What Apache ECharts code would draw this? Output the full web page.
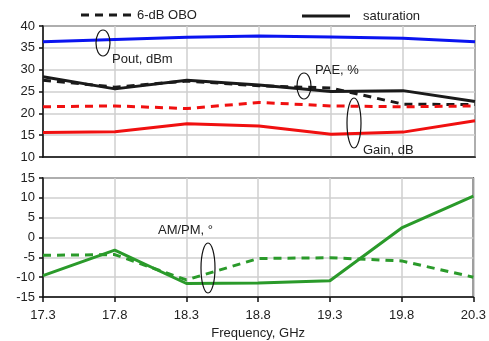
<!DOCTYPE html>
<html>
<head>
<meta charset="utf-8">
<script src="https://cdn.jsdelivr.net/npm/echarts@6/dist/echarts.min.js"></script>
<style>
  html, body { margin: 0; padding: 0; background: #fff; }
  #chart { width: 489px; height: 341px; }
</style>
</head>
<body>
<div id="chart"></div>
<script>
const freqs = ['17.3', '17.8', '18.3', '18.8', '19.3', '19.8', '20.3'];

// top panel
const poutSat = [36.4, 36.9, 37.4, 37.7, 37.5, 37.2, 36.4];
const paeSat = [28.4, 25.6, 27.6, 26.5, 25.0, 25.2, 22.7];
const paeObo = [27.6, 26.0, 27.4, 26.3, 25.8, 22.1, 22.0];
const gainObo = [21.5, 21.7, 21.1, 22.5, 21.7, 21.5, 21.7];
const gainSat = [15.6, 15.8, 17.6, 17.1, 15.2, 15.7, 18.3];

// bottom panel
const ampmSat = [-9.6, -3.2, -11.6, -11.5, -10.9, 2.4, 10.4];
const ampmObo = [-4.5, -4.3, -10.7, -5.3, -5.1, -5.9, -10.0];

const font = 'Liberation Sans, Arial, sans-serif';
const gridLine = { show: true, lineStyle: { color: '#cfcfcf', width: 1.5 } };
const tick = { show: true, length: 4, lineStyle: { color: '#111', width: 1.5 } };

function line(name, data, color, dashed, xi, yi) {
  return {
    name, type: 'line', data, xAxisIndex: xi, yAxisIndex: yi,
    symbol: 'none', silent: true,
    lineStyle: { color, width: 3, type: dashed ? [8, 6] : 'solid' },
    z: dashed ? 3 : 2
  };
}

function ellipse(cx, cy, rx, ry) {
  return {
    type: 'ellipse', shape: { cx, cy, rx, ry },
    style: { fill: null, stroke: '#111', lineWidth: 1.2 }, z: 10
  };
}
function label(x, y, text) {
  return {
    type: 'text', x, y,
    style: { text, font: '13px ' + font, fill: '#222', textVerticalAlign: 'middle' }, z: 10
  };
}
function legendLine(x1, x2, y, dashed) {
  return {
    type: 'line', shape: { x1, y1: y, x2, y2: y },
    style: { stroke: '#1a1a1a', lineWidth: 3, lineDash: dashed ? [8, 6] : null }, z: 10
  };
}

const chart = echarts.init(document.getElementById('chart'), null, { renderer: 'canvas' });
chart.setOption({
  animation: false,
  textStyle: { fontFamily: font },
  grid: [
    { left: 43, right: 14, top: 26, height: 131, show: true, borderColor: '#111', borderWidth: 1.5 },
    { left: 43, right: 14, top: 178, height: 121, show: true, borderColor: '#111', borderWidth: 1.5 }
  ],
  xAxis: [
    {
      type: 'category', data: freqs, boundaryGap: false, gridIndex: 0,
      axisLine: { onZero: false, lineStyle: { color: '#111', width: 1.5 } },
      axisTick: { show: false }, axisLabel: { show: false }, splitLine: gridLine
    },
    {
      type: 'category', data: freqs, boundaryGap: false, gridIndex: 1,
      name: 'Frequency, GHz', nameLocation: 'middle', nameGap: 30,
      nameTextStyle: { fontSize: 13, color: '#222', fontFamily: font },
      axisLine: { onZero: false, lineStyle: { color: '#111', width: 1.5 } },
      axisTick: { show: true, length: 5, lineStyle: { color: '#111', width: 1.5 } },
      axisLabel: { fontSize: 13, color: '#222', margin: 12, fontFamily: font }, splitLine: gridLine
    }
  ],
  yAxis: [
    {
      type: 'value', gridIndex: 0, min: 10, max: 40, interval: 5,
      axisLine: { show: true, lineStyle: { color: '#111', width: 1.5 } },
      axisTick: tick,
      axisLabel: { fontSize: 13, color: '#222', margin: 8, fontFamily: font }, splitLine: gridLine
    },
    {
      type: 'value', gridIndex: 1, min: -15, max: 15, interval: 5,
      axisLine: { show: true, lineStyle: { color: '#111', width: 1.5 } },
      axisTick: tick,
      axisLabel: { fontSize: 13, color: '#222', margin: 8, fontFamily: font }, splitLine: gridLine
    }
  ],
  series: [
    line('Pout', poutSat, '#0a14f0', false, 0, 0),
    line('saturation', paeSat, '#1a1a1a', false, 0, 0),
    line('6-dB OBO', paeObo, '#1a1a1a', true, 0, 0),
    line('Gain OBO', gainObo, '#f01010', true, 0, 0),
    line('Gain sat', gainSat, '#f01010', false, 0, 0),
    line('AM/PM sat', ampmSat, '#2a9a2a', false, 1, 1),
    line('AM/PM OBO', ampmObo, '#2a9a2a', true, 1, 1)
  ],
  graphic: [
    legendLine(81, 131, 15, true),
    label(137, 15, '6-dB OBO'),
    legendLine(302, 350, 16, false),
    label(363, 16, 'saturation'),
    ellipse(103, 43, 7, 13),
    label(112, 59, 'Pout, dBm'),
    ellipse(304, 86, 7, 13),
    label(315, 70, 'PAE, %'),
    ellipse(354, 123, 7, 25),
    label(363, 150, 'Gain, dB'),
    ellipse(208, 268, 7, 25),
    label(158, 230, 'AM/PM, °')
  ]
});
</script>
</body>
</html>
